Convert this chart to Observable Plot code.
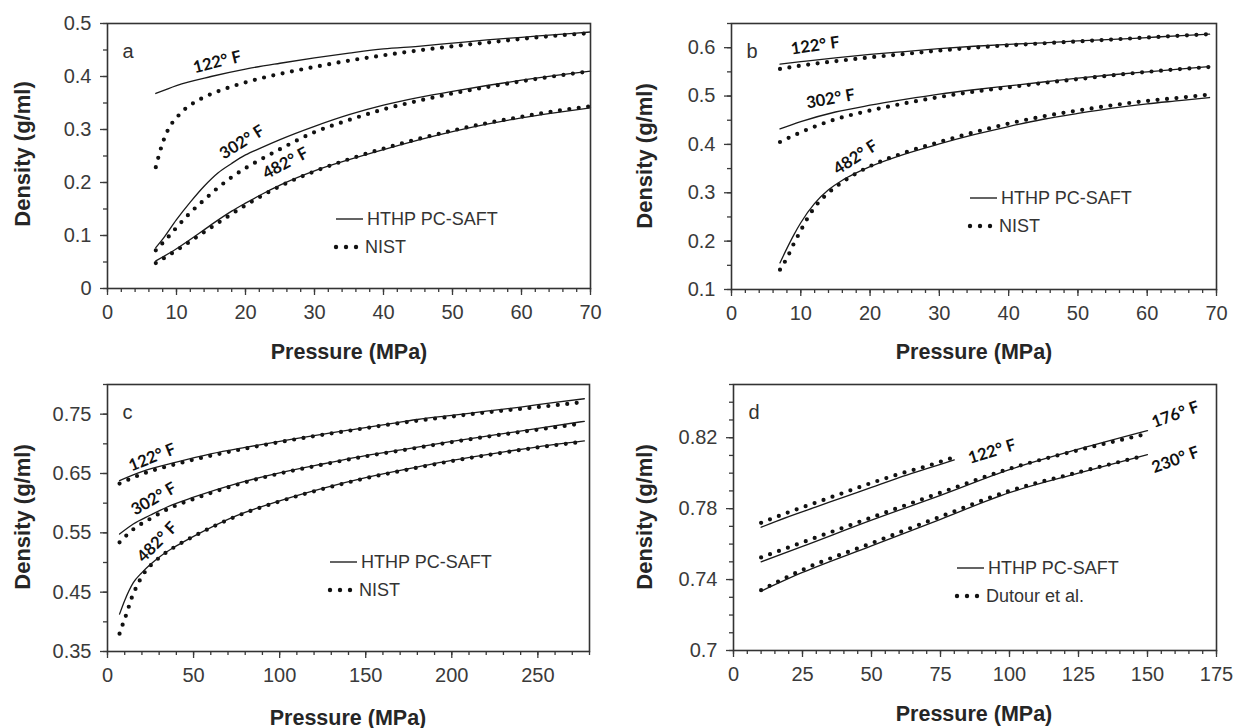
<!DOCTYPE html>
<html><head><meta charset="utf-8">
<script src="https://cdn.jsdelivr.net/npm/d3@7"></script>
<script src="https://cdn.jsdelivr.net/npm/@observablehq/plot@0.6"></script>
<style>
body{margin:0;background:#fff;}
#root{position:relative;width:1238px;height:728px;overflow:hidden;background:#fff;font-family:"Liberation Sans",Arial,sans-serif;}
.panel{position:absolute;}
.panel g[aria-label$="tick label"], .panel g[aria-label$="tick label"] text{font-size:20px !important;}
.ytitle{position:absolute;font-weight:bold;font-size:22px;color:#262626;transform:translate(-50%,-50%) rotate(-90deg);white-space:nowrap;}
.xtitle{position:absolute;font-weight:bold;font-size:21.5px;color:#262626;transform:translate(-50%,-50%);white-space:nowrap;}
.leg{position:absolute;display:flex;align-items:center;font-size:18px;color:#333;line-height:1;white-space:nowrap;}
.leg svg{margin-right:3px;}
</style></head><body><div id="root"></div>
<script>
// ---------- Panel a (NIST comparison) ----------
const a_HTHP_122 = [[7,0.368],[10,0.383],[15,0.400],[20,0.414],[25,0.425],[30,0.435],[35,0.444],[40,0.452],[45,0.457],[50,0.463],[55,0.469],[60,0.474],[65,0.479],[70,0.484]];
const a_NIST_122 = [[7,0.229],[8,0.275],[9,0.305],[10,0.322],[11,0.336],[12,0.346],[14,0.361],[16,0.372],[18,0.381],[20,0.389],[25,0.405],[30,0.418],[35,0.430],[40,0.440],[45,0.449],[50,0.457],[55,0.464],[60,0.471],[65,0.477],[70,0.482]];
const a_HTHP_302 = [[7,0.077],[8,0.093],[10,0.130],[12,0.163],[14,0.193],[16,0.218],[18,0.236],[20,0.252],[22,0.264],[25,0.281],[30,0.306],[35,0.328],[40,0.346],[45,0.360],[50,0.372],[55,0.383],[60,0.393],[65,0.402],[70,0.410]];
const a_NIST_302 = [[7,0.072],[8,0.086],[9,0.100],[10,0.115],[12,0.143],[14,0.167],[16,0.190],[18,0.210],[20,0.227],[22,0.242],[25,0.263],[30,0.295],[35,0.318],[40,0.338],[45,0.354],[50,0.368],[55,0.380],[60,0.391],[65,0.401],[70,0.410]];
const a_HTHP_482 = [[7,0.052],[10,0.075],[13.5,0.106],[15,0.120],[18,0.146],[20,0.161],[23,0.182],[25,0.195],[30,0.222],[35,0.243],[40,0.262],[45,0.280],[50,0.296],[55,0.310],[60,0.322],[65,0.332],[70,0.341]];
const a_NIST_482 = [[7,0.048],[10,0.072],[15,0.115],[20,0.157],[25,0.193],[30,0.221],[35,0.244],[40,0.264],[45,0.282],[50,0.298],[55,0.312],[60,0.324],[65,0.335],[70,0.344]];
const a_xTicks = [0,10,20,30,40,50,60,70];
const a_yTicks = [0,0.1,0.2,0.3,0.4,0.5];

// ---------- Panel b (NIST comparison) ----------
const b_HTHP_122 = [[7,0.566],[10,0.571],[15,0.579],[20,0.586],[25,0.592],[30,0.598],[35,0.603],[40,0.607],[45,0.610],[50,0.614],[55,0.617],[60,0.621],[65,0.625],[69,0.628]];
const b_NIST_122 = [[7,0.556],[10,0.563],[15,0.572],[20,0.580],[25,0.587],[30,0.594],[35,0.600],[40,0.605],[45,0.609],[50,0.613],[55,0.617],[60,0.621],[65,0.625],[69,0.628]];
const b_HTHP_302 = [[7,0.432],[10,0.447],[15,0.467],[20,0.481],[25,0.493],[30,0.504],[35,0.513],[40,0.521],[45,0.529],[50,0.537],[55,0.544],[60,0.550],[65,0.556],[69,0.561]];
const b_NIST_302 = [[7,0.405],[10,0.425],[15,0.452],[20,0.470],[25,0.485],[30,0.498],[35,0.509],[40,0.518],[45,0.527],[50,0.535],[55,0.543],[60,0.550],[65,0.556],[69,0.560]];
const b_HTHP_482 = [[7,0.155],[8,0.185],[9,0.213],[10,0.238],[12,0.278],[14,0.306],[16,0.326],[18,0.341],[20,0.354],[25,0.380],[30,0.401],[35,0.420],[40,0.437],[45,0.452],[50,0.464],[55,0.475],[60,0.484],[65,0.491],[69,0.497]];
const b_NIST_482 = [[7,0.141],[8,0.165],[9,0.195],[10,0.222],[11,0.248],[12,0.270],[14,0.300],[16,0.322],[18,0.340],[20,0.355],[25,0.383],[30,0.405],[35,0.425],[40,0.443],[45,0.458],[50,0.470],[55,0.481],[60,0.490],[65,0.497],[69,0.503]];
const b_xTicks = [0,10,20,30,40,50,60,70];
const b_yTicks = [0.1,0.2,0.3,0.4,0.5,0.6];

// ---------- Panel c (NIST comparison) ----------
const c_HTHP_122 = [[7,0.638],[20,0.653],[40,0.669],[60,0.683],[80,0.694],[100,0.704],[120,0.714],[140,0.723],[160,0.732],[180,0.741],[200,0.748],[220,0.755],[240,0.762],[260,0.770],[277,0.776]];
const c_NIST_122 = [[7,0.633],[20,0.649],[40,0.666],[60,0.680],[80,0.692],[100,0.703],[120,0.713],[140,0.722],[160,0.731],[180,0.739],[200,0.746],[220,0.753],[240,0.759],[260,0.765],[275,0.770]];
const c_HTHP_302 = [[7,0.548],[15,0.565],[25,0.580],[35,0.594],[50,0.610],[75,0.633],[100,0.651],[125,0.666],[150,0.680],[175,0.692],[200,0.704],[225,0.715],[250,0.726],[277,0.738]];
const c_NIST_302 = [[7,0.534],[15,0.556],[25,0.574],[35,0.590],[50,0.607],[75,0.631],[100,0.650],[125,0.665],[150,0.679],[175,0.691],[200,0.703],[225,0.714],[250,0.724],[275,0.734]];
const c_HTHP_482 = [[7,0.413],[10,0.436],[15,0.466],[20,0.483],[25,0.497],[30,0.509],[40,0.528],[50,0.544],[75,0.579],[100,0.604],[125,0.625],[150,0.643],[175,0.658],[200,0.672],[225,0.684],[250,0.695],[277,0.705]];
const c_NIST_482 = [[7,0.380],[9,0.397],[11,0.413],[14,0.440],[17,0.460],[21,0.481],[25,0.495],[30,0.508],[40,0.528],[50,0.544],[75,0.578],[100,0.603],[125,0.624],[150,0.642],[175,0.657],[200,0.671],[225,0.683],[250,0.694],[275,0.703]];
const c_xTicks = [0,50,100,150,200,250];
const c_yTicks = [0.35,0.45,0.55,0.65,0.75];

// ---------- Panel d (Dutour et al. comparison) ----------
const d_HTHP_122 = [[10,0.7695],[20,0.7755],[30,0.781],[40,0.7865],[50,0.792],[60,0.7975],[70,0.8025],[80,0.8075]];
const d_Dutour_122 = [[10,0.772],[20,0.778],[30,0.7835],[40,0.789],[50,0.7945],[60,0.7995],[70,0.804],[79,0.8085]];
const d_HTHP_176 = [[10,0.750],[25,0.7587],[50,0.7735],[75,0.7875],[100,0.802],[125,0.8135],[150,0.824]];
const d_Dutour_176 = [[10,0.7525],[25,0.761],[50,0.775],[75,0.789],[100,0.8025],[125,0.813],[148,0.8215]];
const d_HTHP_230 = [[10,0.7335],[25,0.744],[50,0.759],[75,0.774],[100,0.789],[125,0.800],[150,0.8105]];
const d_Dutour_230 = [[10,0.734],[25,0.7455],[50,0.7605],[75,0.7755],[100,0.790],[125,0.8005],[148,0.8095]];
const d_xTicks = [0,25,50,75,100,125,150,175];
const d_yTicks = [0.7,0.74,0.78,0.82];

// temperature annotations (in data units)
const a_notes = [{t:"122° F",x:15.9,y:0.427,r:-14},{t:"302° F",x:19.5,y:0.276,r:-32},{t:"482° F",x:25.8,y:0.236,r:-28}];
const b_notes = [{t:"122° F",x:12.1,y:0.604,r:-8},{t:"302° F",x:14.3,y:0.494,r:-10},{t:"482° F",x:17.9,y:0.373,r:-33}];
const c_notes = [{t:"122° F",x:26,y:0.677,r:-22},{t:"302° F",x:26.9,y:0.607,r:-30},{t:"482° F",x:28.9,y:0.534,r:-45}];
const d_notes = [{t:"122° F",x:93.7,y:0.8122,r:-17},{t:"176° F",x:160.1,y:0.833,r:-20},{t:"230° F",x:160.1,y:0.8075,r:-20}];

const root = document.getElementById("root");

function rowsOf(list) {
  const out = [];
  for (const [name, arr] of list) for (const [p, d] of arr) out.push({series: name, p, d});
  return out;
}

function makePanel(cfg) {
  const model = rowsOf(cfg.model), ref = rowsOf(cfg.ref);
  const fmt = d => `${d}`;
  const plot = Plot.plot({
    width: 619, height: cfg.height,
    marginLeft: cfg.ml, marginRight: cfg.mr, marginTop: cfg.mt, marginBottom: cfg.mb,
    x: {domain: cfg.xDomain, label: null},
    y: {domain: cfg.yDomain, label: null},
    style: {fontFamily: '"Liberation Sans", Arial, sans-serif', fontSize: "20px", color: "#3a3a3a", background: "transparent", overflow: "visible"},
    marks: [
      Plot.axisX({ticks: d3.range(cfg.xDomain[0], cfg.xDomain[1] + 1e-9, cfg.xMinorStep), tickSize: 4, text: null, strokeWidth: 1.3, label: null}),
      Plot.axisX({ticks: cfg.xTicks, tickSize: 7, tickPadding: 9, tickFormat: fmt, strokeWidth: 1.3, fontSize: 20, label: null}),
      Plot.axisY({ticks: d3.range(cfg.yDomain[0], cfg.yDomain[1] + 1e-9, cfg.yMinorStep), tickSize: 4, text: null, strokeWidth: 1.3, label: null}),
      Plot.axisY({ticks: cfg.yTicks, tickSize: 7, tickPadding: 9, tickFormat: fmt, strokeWidth: 1.3, fontSize: 20, label: null}),
      Plot.line(ref, {x: "p", y: "d", z: "series", stroke: "#111", strokeWidth: 4.2, strokeDasharray: "0 9.5", strokeLinecap: "round", curve: "monotone-x"}),
      Plot.line(model, {x: "p", y: "d", z: "series", stroke: "#1a1a1a", strokeWidth: 1.3, curve: "monotone-x"}),
      Plot.text(cfg.notes, {x: "x", y: "y", text: "t", rotate: "r", fontFamily: "Lato, 'Open Sans', sans-serif", fontWeight: "bold", fontSize: 16.5, fill: "#111"}),
      Plot.text([cfg.letter], {frameAnchor: "top-left", dx: 15, dy: 20, text: d => d, fontSize: 20, fill: "#333"}),
      Plot.frame({stroke: "#333", strokeWidth: 1.6})
    ]
  });
  plot.classList.add("panel");
  plot.style.left = cfg.left + "px";
  plot.style.top = cfg.top + "px";
  root.appendChild(plot);

  const xt = document.createElement("div");
  xt.className = "xtitle"; xt.textContent = "Pressure (MPa)";
  xt.style.left = cfg.xt[0] + "px"; xt.style.top = cfg.xt[1] + "px";
  root.appendChild(xt);
  const yt = document.createElement("div");
  yt.className = "ytitle"; yt.textContent = "Density (g/ml)";
  yt.style.left = cfg.yt[0] + "px"; yt.style.top = cfg.yt[1] + "px";
  root.appendChild(yt);

  // legend
  const mk = (x, y, dotted, label) => {
    const div = document.createElement("div");
    div.className = "leg";
    div.style.left = x + "px"; div.style.top = (y - 10) + "px"; div.style.height = "20px";
    const ns = "http://www.w3.org/2000/svg";
    const svg = document.createElementNS(ns, "svg");
    svg.setAttribute("width", 29); svg.setAttribute("height", 20);
    if (dotted) {
      for (const cx of [3, 13, 23]) {
        const c = document.createElementNS(ns, "circle");
        c.setAttribute("cx", cx); c.setAttribute("cy", 10); c.setAttribute("r", 2.2); c.setAttribute("fill", "#111");
        svg.appendChild(c);
      }
    } else {
      const l = document.createElementNS(ns, "line");
      l.setAttribute("x1", 1); l.setAttribute("x2", 28); l.setAttribute("y1", 10); l.setAttribute("y2", 10);
      l.setAttribute("stroke", "#222"); l.setAttribute("stroke-width", 1.4);
      svg.appendChild(l);
    }
    div.appendChild(svg);
    const sp = document.createElement("span"); sp.textContent = label;
    div.appendChild(sp);
    root.appendChild(div);
  };
  mk(cfg.leg[0], cfg.leg[1], false, "HTHP PC-SAFT");
  mk(cfg.leg[0] - 2, cfg.leg[1] + 28, true, cfg.refName);
}

makePanel({letter: "a", left: 0, top: 0, height: 350, ml: 107, mr: 29, mt: 23, mb: 62,
  xDomain: [0, 70], yDomain: [0, 0.5], xTicks: a_xTicks, yTicks: a_yTicks, xMinorStep: 2, yMinorStep: 0.05,
  model: [["122", a_HTHP_122], ["302", a_HTHP_302], ["482", a_HTHP_482]],
  ref: [["122", a_NIST_122], ["302", a_NIST_302], ["482", a_NIST_482]],
  notes: a_notes, refName: "NIST", leg: [335, 219], xt: [349, 352], yt: [23, 154]});

makePanel({letter: "b", left: 619, top: 0, height: 350, ml: 112, mr: 22, mt: 23, mb: 61,
  xDomain: [0, 70], yDomain: [0.1, 0.65], xTicks: b_xTicks, yTicks: b_yTicks, xMinorStep: 2, yMinorStep: 0.05,
  model: [["122", b_HTHP_122], ["302", b_HTHP_302], ["482", b_HTHP_482]],
  ref: [["122", b_NIST_122], ["302", b_NIST_302], ["482", b_NIST_482]],
  notes: b_notes, refName: "NIST", leg: [969, 198], xt: [974, 352], yt: [645, 156]});

makePanel({letter: "c", left: 0, top: 360, height: 368, ml: 107, mr: 30, mt: 24, mb: 77,
  xDomain: [0, 280], yDomain: [0.35, 0.80], xTicks: c_xTicks, yTicks: c_yTicks, xMinorStep: 10, yMinorStep: 0.05,
  model: [["122", c_HTHP_122], ["302", c_HTHP_302], ["482", c_HTHP_482]],
  ref: [["122", c_NIST_122], ["302", c_NIST_302], ["482", c_NIST_482]],
  notes: c_notes, refName: "NIST", leg: [329, 562], xt: [348, 718], yt: [23, 517]});

makePanel({letter: "d", left: 619, top: 360, height: 368, ml: 114, mr: 22, mt: 24, mb: 78,
  xDomain: [0, 175], yDomain: [0.7, 0.85], xTicks: d_xTicks, yTicks: d_yTicks, xMinorStep: 5, yMinorStep: 0.01,
  model: [["122", d_HTHP_122], ["176", d_HTHP_176], ["230", d_HTHP_230]],
  ref: [["122", d_Dutour_122], ["176", d_Dutour_176], ["230", d_Dutour_230]],
  notes: d_notes, refName: "Dutour et al.", leg: [956, 568], xt: [974, 714], yt: [645, 517]});
</script></body></html>
